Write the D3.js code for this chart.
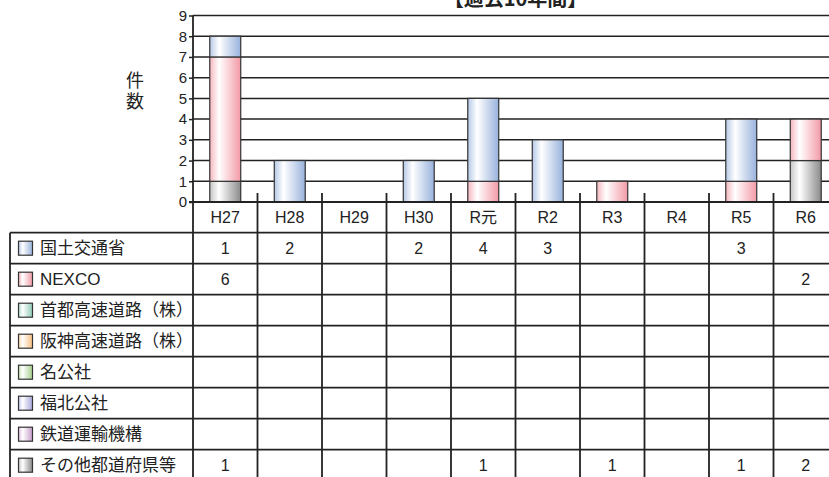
<!DOCTYPE html>
<html lang="ja">
<head>
<meta charset="utf-8">
<script src="https://cdn.jsdelivr.net/npm/d3@7"></script>
<style>
  html, body { margin: 0; padding: 0; background: #fff; }
  svg { display: block; }
  text { font-family: "Liberation Sans", Arial, "Noto Sans CJK JP", sans-serif; fill: #222; }
  .jp { font-family: "Noto Sans CJK JP", "Liberation Sans", sans-serif; }
  .vertical { writing-mode: vertical-rl; text-orientation: upright; }
</style>
</head>
<body>
<script>
// 年度別の件数（過去10年間）
const years = ["H27", "H28", "H29", "H30", "R元", "R2", "R3", "R4", "R5", "R6"];
const organizations = ["国土交通省", "NEXCO", "首都高速道路（株）", "阪神高速道路（株）", "名公社", "福北公社", "鉄道運輸機構", "その他都道府県等"];

const mlit    = [1, 2, null, 2, 4, 3, null, null, 3, null];
const nexco   = [6, null, null, null, null, null, null, null, null, 2];
const shutoko = [null, null, null, null, null, null, null, null, null, null];
const hanshin = [null, null, null, null, null, null, null, null, null, null];
const meiko   = [null, null, null, null, null, null, null, null, null, null];
const fukuhoku = [null, null, null, null, null, null, null, null, null, null];
const jrtt    = [null, null, null, null, null, null, null, null, null, null];
const others  = [1, null, null, null, 1, null, 1, null, 1, 2];

const yTicks = [0, 1, 2, 3, 4, 5, 6, 7, 8, 9];
const titleText = "【過去10年間】";
const yTitle = "件数";

// その他 segments for these years are filled with the NEXCO colour
const othersInNexcoFill = ["R元", "R3", "R5"];

const seriesValues = [mlit, nexco, shutoko, hanshin, meiko, fukuhoku, jrtt, others];
const table = years.map((yr, i) => {
  const row = { year: yr };
  organizations.forEach((org, k) => { row[org] = seriesValues[k][i] || 0; });
  return row;
});

// gradient colours: [left edge, right edge]
const fills = [
  ["#b6c9e8", "#98b2dc"],
  ["#f5b6be", "#f29aa6"],
  ["#b2e0d2", "#8ecab6"],
  ["#fcd8a8", "#f7be7e"],
  ["#cce6b4", "#a6cf8e"],
  ["#c8c8ee", "#a6a6da"],
  ["#e2bee2", "#c69cca"],
  ["#c6c6c6", "#8a8a8a"]
];

const W = 829, H = 477;
const svg = d3.select("body").append("svg").attr("width", W).attr("height", H);

const defs = svg.append("defs");
organizations.forEach((org, k) => {
  const g = defs.append("linearGradient").attr("id", "grad" + k)
    .attr("x1", "0%").attr("x2", "100%").attr("y1", "0%").attr("y2", "0%");
  g.append("stop").attr("offset", "0%").attr("stop-color", fills[k][0]);
  g.append("stop").attr("offset", "30%").attr("stop-color", "#ffffff");
  g.append("stop").attr("offset", "100%").attr("stop-color", fills[k][1]);
});

const plotLeft = 193, plotRight = 838, plotTop = 15.5, plotBottom = 202;
const tableLeft = 10, tableTop = 232.7, rowH = 31;

const x = d3.scaleBand().domain(years).range([plotLeft, plotRight]);
const y = d3.scaleLinear().domain([0, 9]).range([plotBottom, plotTop]);
const rowY = d3.scaleBand().domain(organizations)
  .range([tableTop, tableTop + rowH * organizations.length]);

const lineColor = "#222";

// horizontal grid
svg.append("g").selectAll("line").data(yTicks.filter(t => t > 0)).join("line")
  .attr("x1", plotLeft).attr("x2", plotRight)
  .attr("y1", d => y(d)).attr("y2", d => y(d))
  .attr("stroke", lineColor).attr("stroke-width", 1.5);

// y axis
const yAxis = svg.append("g").attr("transform", `translate(${plotLeft},0)`)
  .call(d3.axisLeft(y).tickValues(yTicks).tickSizeInner(4).tickSizeOuter(0).tickPadding(2));
yAxis.select(".domain").remove();
yAxis.selectAll(".tick line").attr("stroke", lineColor).attr("stroke-width", 1.5);
yAxis.selectAll(".tick text").attr("font-size", 15).attr("fill", "#222")
  .style("font-family", "'Liberation Sans', Arial, sans-serif");

// stacked bars
const stackKeys = organizations.slice().reverse();
const stacked = d3.stack().keys(stackKeys)(table);
const barW = x.bandwidth() * 0.48;
const barOff = (x.bandwidth() - barW) / 2;

const segs = [];
stacked.forEach(layer => {
  const k = organizations.indexOf(layer.key);
  layer.forEach(d => {
    if (d[1] - d[0] > 0) segs.push({ key: layer.key, k, year: d.data.year, y0: d[0], y1: d[1] });
  });
});

svg.append("g").selectAll("rect").data(segs).join("rect")
  .attr("x", d => x(d.year) + barOff)
  .attr("width", barW)
  .attr("y", d => y(d.y1))
  .attr("height", d => y(d.y0) - y(d.y1))
  .attr("fill", d => {
    const k = (d.key === "その他都道府県等" && othersInNexcoFill.includes(d.year)) ? 1 : d.k;
    return `url(#grad${k})`;
  })
  .attr("stroke", "#333").attr("stroke-width", 1.2);

// x axis baseline
svg.append("line")
  .attr("x1", plotLeft - 4).attr("x2", plotRight)
  .attr("y1", plotBottom).attr("y2", plotBottom)
  .attr("stroke", lineColor).attr("stroke-width", 1.8);

// left axis line through the table
svg.append("line")
  .attr("x1", plotLeft).attr("x2", plotLeft)
  .attr("y1", plotTop).attr("y2", H)
  .attr("stroke", lineColor).attr("stroke-width", 1.8);

// column dividers
svg.append("g").selectAll("line").data(years.slice(1)).join("line")
  .attr("x1", d => x(d)).attr("x2", d => x(d))
  .attr("y1", plotBottom - 9).attr("y2", H)
  .attr("stroke", lineColor).attr("stroke-width", 1.8);

// category labels
svg.append("g").selectAll("text").data(years).join("text")
  .attr("x", d => x(d) + x.bandwidth() / 2)
  .attr("y", (plotBottom + tableTop) / 2)
  .attr("text-anchor", "middle").attr("dominant-baseline", "central")
  .attr("font-size", 16)
  .text(d => d);

// table row lines
const rowLines = d3.range(organizations.length + 1).map(i => tableTop + i * rowH);
svg.append("g").selectAll("line").data(rowLines).join("line")
  .attr("x1", tableLeft).attr("x2", plotRight)
  .attr("y1", d => d).attr("y2", d => d)
  .attr("stroke", lineColor).attr("stroke-width", 1.8);

svg.append("line")
  .attr("x1", tableLeft).attr("x2", tableLeft)
  .attr("y1", tableTop).attr("y2", H)
  .attr("stroke", lineColor).attr("stroke-width", 1.8);

// row headers with swatches
const rows = svg.append("g").selectAll("g").data(organizations).join("g")
  .attr("transform", d => `translate(0,${rowY(d) + rowY.bandwidth() / 2})`);
rows.append("rect")
  .attr("x", 18.5).attr("y", -7).attr("width", 14).attr("height", 14)
  .attr("fill", (d, k) => `url(#grad${k})`)
  .attr("stroke", "#333").attr("stroke-width", 1.2);
rows.append("text")
  .attr("x", 40).attr("y", 0)
  .attr("dominant-baseline", "central")
  .attr("font-size", 17)
  .text(d => d);

// table values
const cells = [];
organizations.forEach((org, k) => {
  years.forEach((yr, i) => {
    const v = seriesValues[k][i];
    if (v != null) cells.push({ org, yr, v });
  });
});
svg.append("g").selectAll("text").data(cells).join("text")
  .attr("x", d => x(d.yr) + x.bandwidth() / 2)
  .attr("y", d => rowY(d.org) + rowY.bandwidth() / 2)
  .attr("text-anchor", "middle").attr("dominant-baseline", "central")
  .attr("font-size", 16)
  .text(d => d.v);

// title
svg.append("text")
  .attr("class", "jp")
  .attr("x", (plotLeft + plotRight) / 2).attr("y", 6)
  .attr("text-anchor", "middle")
  .attr("font-size", 20).attr("font-weight", "bold")
  .text(titleText);

// y axis title, set vertically
svg.append("text")
  .attr("class", "jp vertical")
  .attr("x", 135).attr("y", 71.5)
  .attr("font-size", 18)
  .attr("letter-spacing", 3)
  .text(yTitle);
</script>
</body>
</html>
